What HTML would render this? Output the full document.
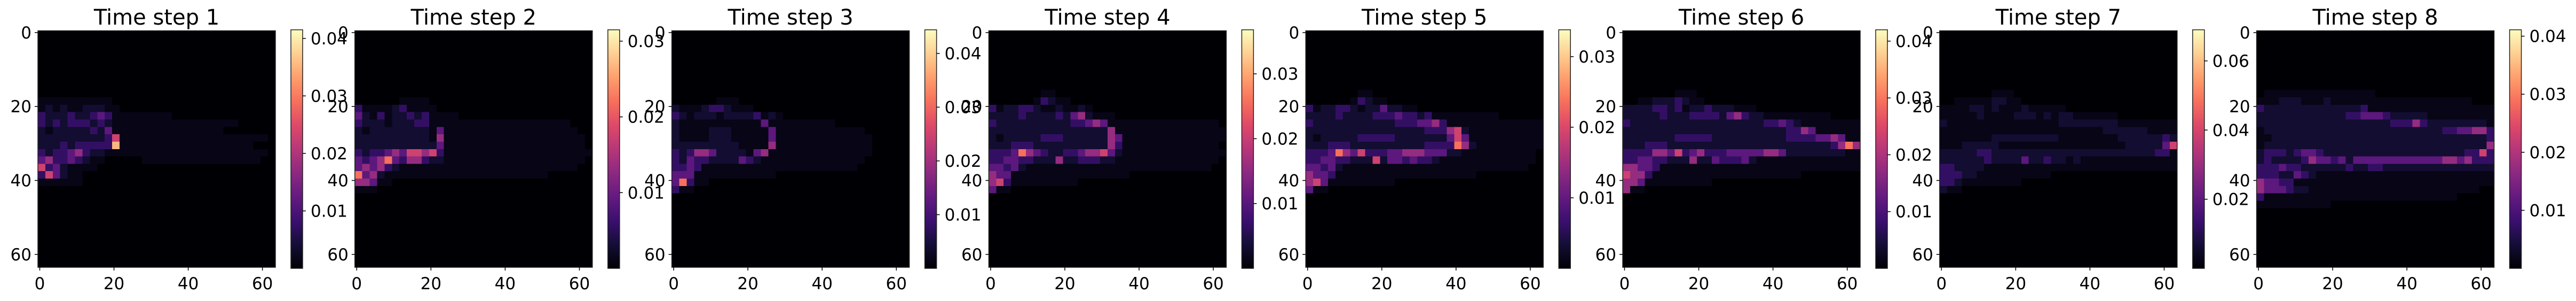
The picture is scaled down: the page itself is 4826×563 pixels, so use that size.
<!DOCTYPE html>
<html><head><meta charset="utf-8">
<style>
html,body{margin:0;padding:0;background:#fff;}
svg{display:block;}
text{font-family:"DejaVu Sans","Liberation Sans",sans-serif;fill:#000;}
</style></head>
<body>
<svg id="fig" width="4826" height="563" viewBox="0 0 4826 563" xmlns="http://www.w3.org/2000/svg">
<defs>
<linearGradient id="magma" x1="0" y1="1" x2="0" y2="0">
<stop offset="0" stop-color="#000004"/><stop offset="0.1" stop-color="#140e36"/><stop offset="0.2" stop-color="#3b0f70"/><stop offset="0.3" stop-color="#641a80"/><stop offset="0.4" stop-color="#8c2981"/><stop offset="0.5" stop-color="#b73779"/><stop offset="0.6" stop-color="#de4968"/><stop offset="0.7" stop-color="#f7705c"/><stop offset="0.8" stop-color="#fe9f6d"/><stop offset="0.9" stop-color="#fecf92"/><stop offset="1" stop-color="#fcfdbf"/>
</linearGradient>
</defs>
</svg>
<script>
// ---- chart data ----
const titles = ["Time step 1","Time step 2","Time step 3","Time step 4","Time step 5","Time step 6","Time step 7","Time step 8"];
const vmaxes = [0.0415,0.0315,0.0444,0.0368,0.0338,0.042,0.069,0.0411];
const cbTicks = [[0.01,0.02,0.03,0.04],[0.01,0.02,0.03],[0.01,0.02,0.03,0.04],[0.01,0.02,0.03],[0.01,0.02,0.03],[0.01,0.02,0.03,0.04],[0.02,0.04,0.06],[0.01,0.02,0.03,0.04]];
const cbLabels = [["0.01","0.02","0.03","0.04"],["0.01","0.02","0.03"],["0.01","0.02","0.03","0.04"],["0.01","0.02","0.03"],["0.01","0.02","0.03"],["0.01","0.02","0.03","0.04"],["0.02","0.04","0.06"],["0.01","0.02","0.03","0.04"]];
// fraction of vmax represented by each intensity level character 0-9
const levelFractions = [0,0.035,0.09,0.18,0.28,0.42,0.56,0.7,0.85,1];
const axisTicks = [0,20,40,60];
const Z = "00000000000000000000000000000000";
const grid1 = [Z,Z,Z,Z,Z,Z,Z,Z,Z,
"11111111110000000000000000000000",
"12121122211000000000000000000000",
"32223223431111111100000000000000",
"32323332321111111111111111100000",
"21222223241111111111111110000000",
"22222222236111111111111111111110",
"22232333338111111111111111111000",
"32334532211111111111111111111110",
"45334321100000111111111111111100",
"63421111000000000000000000000000",
"36421100000000000000000000000000",
"11111100000000000000000000000000",
Z,Z,Z,Z,Z,Z,Z,Z,Z,Z,Z];
const grid2 = [Z,Z,Z,Z,Z,Z,Z,Z,Z,
"00000011110000000000000000000000",
"31111231111000000000000000000000",
"42131223231111000000000000000000",
"32221222331111111111111111111000",
"21222222221411111111111111111100",
"22222222221511111111111111111110",
"22222222222411111111111111111110",
"32334546656311111111111111111111",
"43457435532211111111111111111110",
"45453211111111111111111111111100",
"74521111111111111111111111000000",
"55411000000000000000000000000000",
"11100000000000000000000000000000",
Z,Z,Z,Z,Z,Z,Z,Z,Z,Z];
const grid3 = [Z,Z,Z,Z,Z,Z,Z,Z,Z,
"00000011100000000000000000000000",
"21112332111000000000000000000000",
"32122212222312100000000000000000",
"21111111111141111111110000000000",
"21111222111114111111111111000000",
"21111222111114111111111111100000",
"22222222211115111111111111100000",
"32355422221451111111111111100000",
"32433222243211111111111111000000",
"33431111111111111111111110000000",
"44411111111111000000000000000000",
"47311000000000000000000000000000",
"31100000000000000000000000000000",
Z,Z,Z,Z,Z,Z,Z,Z,Z,Z];
const grid4 = [Z,Z,Z,Z,Z,Z,Z,Z,
"00000001100000000000000000000000",
"00000013211000000000000000000000",
"31223321121121000000000000000000",
"22223222232452111000000000000000",
"32222222222334541111111111111110",
"22222222222222225111111111111111",
"21222223332222225411111111111111",
"22233322222222225311111111111110",
"33347543223345564211111111111111",
"33443322252233322111111111111110",
"44342111111111111111111111111100",
"54411111111111111110000000000000",
"56311111111100000000000000000000",
"41100000000000000000000000000000",
Z,Z,Z,Z,Z,Z,Z,Z,Z,Z];
const grid5 = [Z,Z,Z,Z,Z,Z,Z,Z,
"00000001100000000000000000000000",
"00000013211000000000000000000000",
"31223321224221100000000000000000",
"22223222233343323111111111000000",
"32222222222233344531111111111111",
"22222222222222223335621111111111",
"21222223333322222224641111111111",
"22233322222222223333752111111111",
"33347546333445554442211111111110",
"33443322262443433211111111111110",
"44342111111111111111111111111100",
"54431111111111111111111000000000",
"56411111111100000000000000000000",
"41100000000000000000000000000000",
Z,Z,Z,Z,Z,Z,Z,Z,Z,Z];
const grid6 = [Z,Z,Z,Z,Z,Z,Z,Z,
"00000001110000000000000000000000",
"00112223211000000000000000000000",
"22223323122322211100000000000000",
"22222322233332453221111111110000",
"32222222222222222223343211111111",
"22222222222222222222223354111111",
"22222223333322222222223333445411",
"22233322222222222222222222223575",
"33335546345333444445542222222211",
"33443322252243334211111111111111",
"55443111111111111111111111111111",
"65531111111111111111111100000000",
"55411111111100000000000000000000",
"51100000000000000000000000000000",
Z,Z,Z,Z,Z,Z,Z,Z,Z,Z];
const grid7 = [Z,Z,Z,Z,Z,Z,Z,Z,
"00000001110000000000000000000000",
"00111112211000000000000000000000",
"11112212111211111000000000000000",
"11111211112221212211111100000000",
"21111111111111112222222211111111",
"11111111111111111111112222221111",
"11111112222222221111111122222232",
"11122222111111111111111112222246",
"22222332222222222222222222222331",
"22222232222422322121111111111111",
"33222211111111111111111111111111",
"33322111111111100000000000000000",
"33211111111000000000000000000000",
"21100000000000000000000000000000",
Z,Z,Z,Z,Z,Z,Z,Z,Z,Z];
const grid8 = [Z,Z,Z,Z,Z,Z,Z,Z,
"01111111111111110000000000000000",
"11122211121111111111111111111000",
"32222222222222311111111111111111",
"22222222222233444322222111111111",
"22222222222222222233353222222221",
"12222222222222222222222223344553",
"11222222222222222222222222222223",
"12222222222222222222222222222225",
"23332344322222222222222222223363",
"23222235443424444444444445545333",
"33343322222232233222222222222222",
"33322432111111111111111111111111",
"54433111111111111111111111111111",
"54443221111111111111111111111100",
"31111111111111111111111111100000",
"11111111110000000000000000000000",
Z,Z,Z,Z,Z,Z,Z,Z];
const grids = [grid1,grid2,grid3,grid4,grid5,grid6,grid7,grid8];

// ---- rendering ----
const NS = "http://www.w3.org/2000/svg";
const svg = document.getElementById('fig');
const magma = ["#000004","#140e36","#3b0f70","#641a80","#8c2981","#b73779","#de4968","#f7705c","#fe9f6d","#fecf92","#fcfdbf"];
function hex2rgb(h){return [parseInt(h.slice(1,3),16),parseInt(h.slice(3,5),16),parseInt(h.slice(5,7),16)];}
function cmap(t){t=Math.max(0,Math.min(1,t));const f=t*10,i=Math.min(9,Math.floor(f)),u=f-i;const a=hex2rgb(magma[i]),b=hex2rgb(magma[i+1]);return "rgb("+a.map((v,k)=>Math.round(v+(b[k]-v)*u)).join(",")+")";}
function mk(tag,attrs,parent){const e=document.createElementNS(NS,tag);for(const k in attrs)e.setAttribute(k,attrs[k]);(parent||svg).appendChild(e);return e;}

const IMG_W=445, IMG_H=442.5, IMG_TOP=57.5, PANEL_STEP=593.8, FIRST_LEFT=71;
const CB_OFF=474, CB_W=22, CB_TOP=55.7, CB_BOT=502;

grids.forEach((g,p)=>{
  const x0 = FIRST_LEFT + p*PANEL_STEP;
  const xs = v => x0 + (v+0.5)*IMG_W/64;
  const ys = v => IMG_TOP + (v+0.5)*IMG_H/64;
  const grp = mk('g',{});
  
  
  const t = mk('text',{x:x0+IMG_W/2,y:46,'font-size':40,'text-anchor':'middle'},grp);
  t.textContent = titles[p];
  
  
  const hm = mk('g',{'shape-rendering':'crispEdges'},grp);
  
  
  const rows=g.length, cols=g[0].length, cw=IMG_W/cols, ch=IMG_H/rows;
  g.forEach((row,r)=>{
    for(let c=0;c<cols;c++){
      const lvl=levelFractions[+row[c]];
      const cell = mk('rect',{x:x0+c*cw,y:IMG_TOP+r*ch,width:cw+0.6,height:ch+0.6,fill:cmap(lvl)},hm);
      
      
    }
  });
  const frame = mk('rect',{x:x0,y:IMG_TOP,width:IMG_W,height:IMG_H,fill:'none',stroke:'#222','stroke-width':1.5},grp);
  
  
  axisTicks.forEach(v=>{
    mk('line',{x1:xs(v),x2:xs(v),y1:IMG_TOP+IMG_H,y2:IMG_TOP+IMG_H+6,stroke:'#000','stroke-width':1.5},grp);
    const xl = mk('text',{x:xs(v),y:541,'font-size':31,'text-anchor':'middle'},grp);
    xl.textContent=v;
    
    
    mk('line',{x1:x0-6,x2:x0,y1:ys(v),y2:ys(v),stroke:'#000','stroke-width':1.5},grp);
    const yl = mk('text',{x:x0-12,y:ys(v)+11,'font-size':31,'text-anchor':'end'},grp);
    yl.textContent=v;
    
    
  });
  const cx = x0+CB_OFF;
  const cb = mk('rect',{x:cx,y:CB_TOP,width:CB_W,height:CB_BOT-CB_TOP,fill:'url(#magma)',stroke:'#222','stroke-width':1.5},grp);
  
  
  const cys = v => CB_BOT - v/vmaxes[p]*(CB_BOT-CB_TOP);
  cbTicks[p].forEach((v,i)=>{
    mk('line',{x1:cx+CB_W,x2:cx+CB_W+6,y1:cys(v),y2:cys(v),stroke:'#000','stroke-width':1.5},grp);
    const cl = mk('text',{x:cx+CB_W+15,y:cys(v)+11,'font-size':31},grp);
    cl.textContent=cbLabels[p][i];
    
    
  });
});
</script>
</body></html>
